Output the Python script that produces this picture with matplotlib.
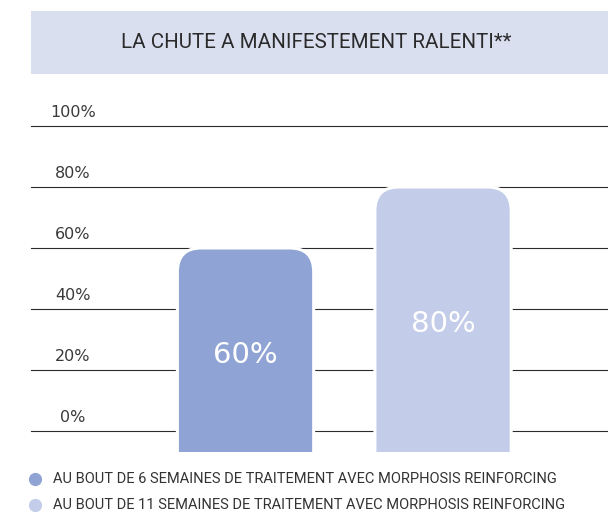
import matplotlib
matplotlib.use("Agg")
import matplotlib.pyplot as plt
from matplotlib.patches import FancyBboxPatch, Rectangle
from matplotlib.lines import Line2D

title = "LA CHUTE A MANIFESTEMENT RALENTI**"
categories = ["AU BOUT DE 6 SEMAINES DE TRAITEMENT AVEC MORPHOSIS REINFORCING",
              "AU BOUT DE 11 SEMAINES DE TRAITEMENT AVEC MORPHOSIS REINFORCING"]
values = [60, 80]
bar_labels = ["60%", "80%"]
ticks = [0, 20, 40, 60, 80, 100]
tick_labels = ["0%", "20%", "40%", "60%", "80%", "100%"]
colors = ["#8fa4d4", "#c3cce8"]

W, H = 608, 512
fig = plt.figure(figsize=(W / 100, H / 100), dpi=100)

# title banner
fig.patches.append(Rectangle((31 / W, 1 - 74 / H), 1 - 31 / W, 63 / H,
                             transform=fig.transFigure, facecolor="#dadff0",
                             edgecolor="none", zorder=0))
fig.text(316 / W, 1 - 43 / H, title, ha="center", va="center",
         family="Roboto", fontsize=14.8, color="#2a2a2a")

ymin, ymax = -6.9, 100
ax = fig.add_axes([31 / W, (H - 452) / H, 1 - 31 / W, (452 - 126) / H])
ax.set_xlim(-1.086, 1.835)
ax.set_ylim(ymin, ymax)
ax.axis("off")

for t, lab in zip(ticks, tick_labels):
    ax.axhline(t, color="#2b2b2b", lw=0.8, zorder=1, clip_on=False)
    ax.annotate(lab, xy=(0.0728, t), xycoords=("axes fraction", "data"),
                xytext=(0, 6), textcoords="offset pixels", ha="center",
                va="bottom", family=["DejaVu Sans"], fontsize=11.5,
                color="#3a3a3a")

width = 0.69
bars = ax.bar(range(len(values)), values, width=width, bottom=0,
              color=colors, zorder=2)
# px per data unit
sx = 197.5
sy = (452 - 126) / (ymax - ymin)
r_px = 24
for b, c in zip(bars, colors):
    x0 = b.get_x()
    top = b.get_y() + b.get_height()
    b.set_visible(False)
    bottom = ymin - 30
    p = FancyBboxPatch((x0, bottom), b.get_width(), top - bottom,
                       boxstyle=f"round,pad=0,rounding_size={r_px / sx}",
                       mutation_aspect=(sx / sy),
                       facecolor=c, edgecolor="white", lw=2.2, zorder=3,
                       clip_on=True)
    ax.add_patch(p)

for i, (v, lab) in enumerate(zip(values, bar_labels)):
    ax.text(i, (ymin + v) / 2 - 1.5, lab, ha="center", va="center",
            family=["DejaVu Sans"], fontsize=21, color="white", zorder=4)

# legend
for k, (cat, c) in enumerate(zip(categories, colors)):
    yy = 1 - (479 + 26 * k) / H
    fig.add_artist(Line2D([35 / W], [yy], marker="o", markersize=8.5,
                          color=c, linestyle="none",
                          transform=fig.transFigure))
    fig.text(53 / W, yy, cat, ha="left", va="center", family="Roboto",
             fontsize=10.5, color="#333333")

fig.savefig("out.png", dpi=100)
